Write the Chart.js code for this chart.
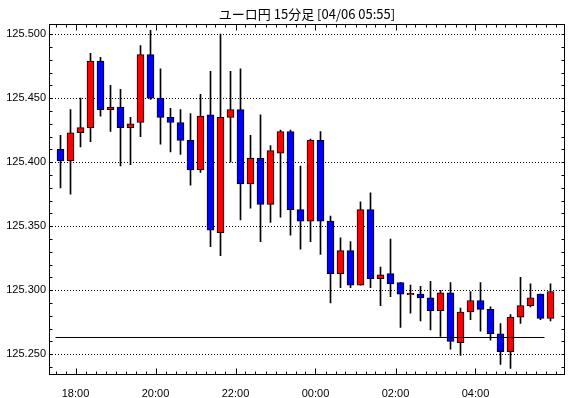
<!DOCTYPE html>
<html>
<head>
<meta charset="utf-8">
<script src="https://cdn.jsdelivr.net/npm/chart.js@4.4.1/dist/chart.umd.min.js"></script>
<style>
  html, body { margin: 0; padding: 0; background: #fff; }
  #wrap { width: 570px; height: 398px; }
</style>
</head>
<body>
<div id="wrap"><canvas id="candleChart" width="570" height="398"></canvas></div>
<script>
// 15分足 ユーロ円, candle 0 = 17:30, one candle per 15 min
var opens  = [125.410,125.401,125.423,125.427,125.479,125.441,125.443,125.427,125.431,125.484,
              125.450,125.435,125.431,125.417,125.394,125.437,125.345,125.435,125.441,125.383,
              125.403,125.367,125.407,125.424,125.363,125.354,125.417,125.354,125.313,125.331,
              125.304,125.363,125.309,125.313,125.306,125.2965,125.297,125.294,125.284,125.298,
              125.259,125.283,125.292,125.285,125.266,125.252,125.279,125.288,125.297,125.278];
var highs  = [125.421,125.441,125.450,125.485,125.482,125.460,125.457,125.435,125.491,125.503,
              125.473,125.442,125.441,125.438,125.453,125.471,125.500,125.471,125.473,125.421,
              125.437,125.413,125.425,125.425,125.397,125.418,125.424,125.358,125.341,125.338,
              125.369,125.376,125.318,125.340,125.306,125.304,125.303,125.307,125.300,125.306,
              125.286,125.299,125.306,125.287,125.274,125.281,125.310,125.305,125.297,125.305];
var lows   = [125.380,125.375,125.412,125.416,125.436,125.424,125.397,125.398,125.420,125.449,
              125.414,125.408,125.406,125.382,125.392,125.334,125.327,125.400,125.355,125.364,
              125.338,125.353,125.357,125.343,125.332,125.338,125.328,125.290,125.302,125.302,
              125.304,125.302,125.288,125.295,125.271,125.282,125.276,125.269,125.264,125.254,
              125.249,125.277,125.268,125.261,125.242,125.239,125.274,125.287,125.277,125.276];
var closes = [125.401,125.423,125.427,125.479,125.441,125.443,125.427,125.430,125.484,125.450,
              125.435,125.431,125.417,125.394,125.436,125.347,125.435,125.441,125.383,125.403,
              125.367,125.409,125.424,125.363,125.354,125.417,125.354,125.313,125.331,125.304,
              125.363,125.309,125.312,125.305,125.297,125.2975,125.294,125.284,125.298,125.260,
              125.283,125.292,125.285,125.266,125.252,125.279,125.288,125.294,125.278,125.299];

var refLevel = 125.2631;
var refLineFrom = -0.5, refLineTo = 48.4;

var xTickPos = [1.5, 9.5, 17.5, 25.5, 33.5, 41.5];
var xTickLabels = ['18:00', '20:00', '22:00', '00:00', '02:00', '04:00'];
var yTicks = [125.250, 125.300, 125.350, 125.400, 125.450, 125.500];

var bodies = [], wicks = [], bodyColors = [];
for (var i = 0; i < opens.length; i++) {
    bodies.push({ x: i, y: [opens[i], closes[i]] });
    wicks.push({ x: i, y: [lows[i], highs[i]] });
    bodyColors.push(closes[i] >= opens[i] ? '#ff0000' : '#0000ff');
}

// frame + inward tick marks like the original
var frameTicks = {
    id: 'frameTicks',
    afterDraw: function (chart) {
        var ctx = chart.ctx, a = chart.chartArea;
        var xs = chart.scales.x, ys = chart.scales.y;
        ctx.save();
        ctx.strokeStyle = '#000';
        ctx.lineWidth = 1;
        var L = Math.round(a.left) + 0.5, R = Math.round(a.right) - 0.5;
        var T = Math.round(a.top) + 0.5, B = Math.round(a.bottom) - 0.5;
        ctx.strokeRect(L, T, R - L, B - T);
        ctx.beginPath();
        for (var k = -1; k <= 50; k++) {
            var v = k + 0.5;
            if (v < xs.min || v > xs.max) continue;
            var px = Math.round(xs.getPixelForValue(v)) + 0.5;
            var len = xTickPos.indexOf(v) >= 0 ? 6 : 3;
            ctx.moveTo(px, T); ctx.lineTo(px, T + len);
            ctx.moveTo(px, B); ctx.lineTo(px, B - len);
        }
        for (var j = 0; j <= 30; j++) {
            var yv = 125.24 + j * 0.01;
            if (yv < ys.min || yv > ys.max) continue;
            var py = Math.round(ys.getPixelForValue(yv)) + 0.5;
            ctx.moveTo(L, py); ctx.lineTo(L + 3, py);
            ctx.moveTo(R, py); ctx.lineTo(R - 3, py);
        }
        ctx.stroke();
        ctx.restore();
    }
};

new Chart(document.getElementById('candleChart'), {
    type: 'bar',
    data: {
        datasets: [{
            type: 'line',
            data: [{ x: refLineFrom, y: refLevel }, { x: refLineTo, y: refLevel }],
            borderColor: '#000',
            borderWidth: 1,
            pointRadius: 0,
            order: 0
        }, {
            data: bodies,
            backgroundColor: bodyColors,
            borderColor: '#000',
            borderWidth: 1,
            borderSkipped: false,
            barThickness: 7,
            grouped: false,
            order: 1
        }, {
            data: wicks,
            backgroundColor: '#000',
            borderWidth: 0,
            barThickness: 1,
            grouped: false,
            order: 2
        }]
    },
    options: {
        responsive: false,
        animation: false,
        layout: { padding: { left: 0, right: 5, top: 0, bottom: 0 } },
        plugins: {
            legend: { display: false },
            tooltip: { enabled: false },
            title: {
                display: true,
                fullSize: false,
                text: 'ユーロ円 15分足 [04/06 05:55]',
                color: '#000',
                font: { family: '"Noto Sans CJK JP", "Liberation Sans", sans-serif', size: 13, weight: 'normal', lineHeight: 1.1 },
                padding: { top: 7, bottom: 3 }
            }
        },
        scales: {
            x: {
                type: 'linear',
                min: -1.15,
                max: 50.45,
                offset: false,
                grid: { display: false },
                border: { display: false },
                afterBuildTicks: function (s) {
                    s.ticks = xTickPos.map(function (v) { return { value: v }; });
                },
                afterFit: function (s) { s.height = 23; },
                ticks: {
                    autoSkip: false,
                    maxRotation: 0,
                    padding: 4,
                    color: '#000',
                    font: { family: '"Liberation Sans", Arial, sans-serif', size: 11 },
                    callback: function (v) {
                        var n = xTickPos.indexOf(v);
                        return n >= 0 ? xTickLabels[n] : '';
                    }
                }
            },
            y: {
                min: 125.2338,
                max: 125.5077,
                grid: { color: '#000', lineWidth: 1, drawTicks: false },
                border: { display: false, dash: [1, 2] },
                afterBuildTicks: function (s) {
                    s.ticks = yTicks.map(function (v) { return { value: v }; });
                },
                afterFit: function (s) { s.width = 49; },
                ticks: {
                    padding: 3,
                    color: '#000',
                    font: { family: '"Liberation Sans", Arial, sans-serif', size: 11 },
                    callback: function (v) { return Number(v).toFixed(3); }
                }
            }
        }
    },
    plugins: [frameTicks]
});
</script>
</body>
</html>
